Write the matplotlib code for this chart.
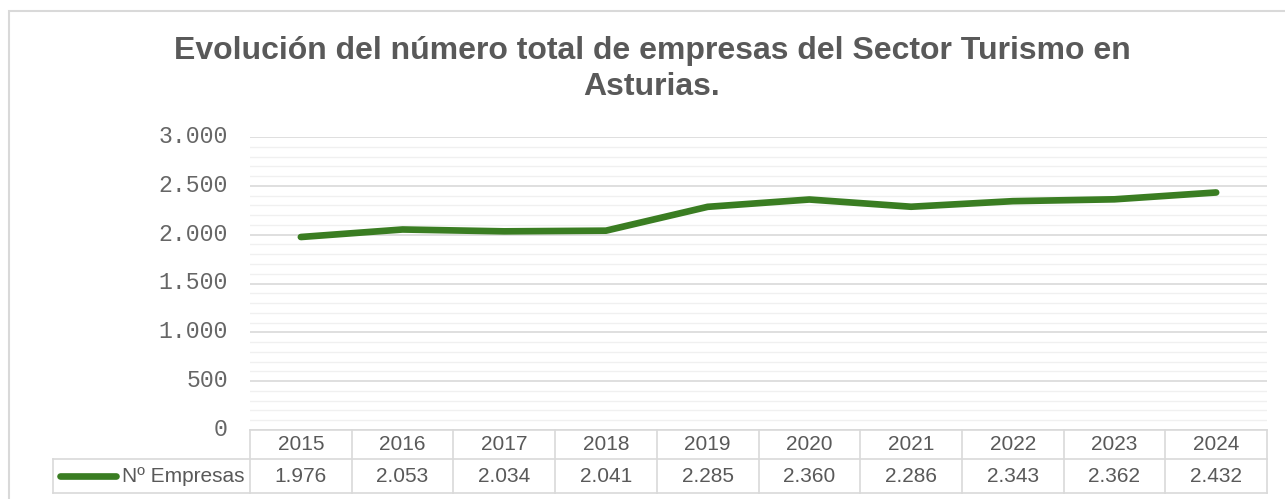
import matplotlib
matplotlib.use("Agg")
import matplotlib.pyplot as plt
from matplotlib.ticker import MultipleLocator, FuncFormatter
from matplotlib.lines import Line2D
from matplotlib.patches import Rectangle
from matplotlib import transforms

years = ["2015", "2016", "2017", "2018", "2019", "2020", "2021", "2022", "2023", "2024"]
empresas = [1976, 2053, 2034, 2041, 2285, 2360, 2286, 2343, 2362, 2432]
series_name = "Nº Empresas"
title = "Evolución del número total de empresas del Sector Turismo en\nAsturias."

W, H = 1285, 499
fig = plt.figure(figsize=(W / 100, H / 100), dpi=100)
fig.patch.set_facecolor("white")

L, R, T, B = 250, 1267, 137, 430
ax = fig.add_axes([L / W, 1 - B / H, (R - L) / W, (B - T) / H])

text_col = "#595959"
green = "#3a7d22"
grid_major = "#d9d9d9"
grid_minor = "#f0f0f0"
lw_line = 4.8

n = len(years)
x = list(range(n))
ax.plot(x, empresas, color=green, lw=lw_line, solid_capstyle="round", solid_joinstyle="round", zorder=3)
ax.set_xlim(-0.5, n - 0.5)
ax.set_ylim(0, 3000)

ax.yaxis.set_major_locator(MultipleLocator(500))
ax.yaxis.set_minor_locator(MultipleLocator(100))
ax.yaxis.set_major_formatter(FuncFormatter(lambda v, p: f"{int(v):,}".replace(",", ".")))
ax.grid(axis="y", which="major", color=grid_major, lw=1.2, zorder=1)
ax.grid(axis="y", which="minor", color=grid_minor, lw=1.0, zorder=0)
ax.set_axisbelow(True)
ax.tick_params(axis="y", which="both", length=0, pad=16, labelsize=16.7, labelcolor="#666666")
shift = transforms.ScaledTranslation(0, 3 / 100, fig.dpi_scale_trans)
for lab in ax.get_yticklabels():
    lab.set_fontfamily("Liberation Mono")
    lab.set_verticalalignment("center_baseline")
    lab.set_transform(lab.get_transform() + shift)
ax.set_xticks([])
for s in ax.spines.values():
    s.set_visible(False)

# data table (drawn below the axes)
tr = transforms.blended_transform_factory(ax.transData, ax.transAxes)
px = lambda p: (p - L) / (R - L)          # pixel x -> axes x
py = lambda p: -(p - B) / (B - T)         # pixel y -> axes y
y0, y1, y2 = py(430), py(459), py(493)
xl = px(53)
lk = dict(color=grid_major, lw=1.2, transform=ax.transAxes, clip_on=False)
ax.add_line(Line2D([0, 1], [y0, y0], **lk))
ax.add_line(Line2D([xl, 1], [y1, y1], **lk))
ax.add_line(Line2D([xl, 1], [y2, y2], **lk))
ax.add_line(Line2D([xl, xl], [y1, y2], **lk))
for k in range(n + 1):
    ax.add_line(Line2D([k / n, k / n], [y0, y2], **lk))
tk = dict(color=text_col, fontsize=15, fontfamily="Liberation Sans", ha="center", va="center",
          transform=tr, clip_on=False)
for i, (yr, v) in enumerate(zip(years, empresas)):
    ax.text(i, (y0 + y1) / 2, yr, **tk)
    ax.text(i, (y1 + y2) / 2, f"{v:,}".replace(",", "."), **tk)
ax.text(px(244), (y1 + y2) / 2, series_name, color=text_col, fontsize=15, fontfamily="Liberation Sans",
        ha="right", va="center", transform=ax.transAxes, clip_on=False)
# legend key in the row label cell
ax.add_line(Line2D([px(60), px(116)], [(y1 + y2) / 2] * 2, transform=ax.transAxes,
                   color=green, lw=lw_line, solid_capstyle="round", clip_on=False))

fig.suptitle(title, x=652 / W, y=1 - 36 / H, fontsize=23, fontweight="bold",
             color=text_col, fontfamily="Liberation Sans", va="top", linespacing=1.28)

# outer chart border
fig.add_artist(Rectangle((8.5 / W, -0.1), 1.2, 1 - 10.5 / H + 0.1, transform=fig.transFigure,
                         fill=False, edgecolor=grid_major, lw=1.5))

fig.savefig("out.png", dpi=100, facecolor="white")
